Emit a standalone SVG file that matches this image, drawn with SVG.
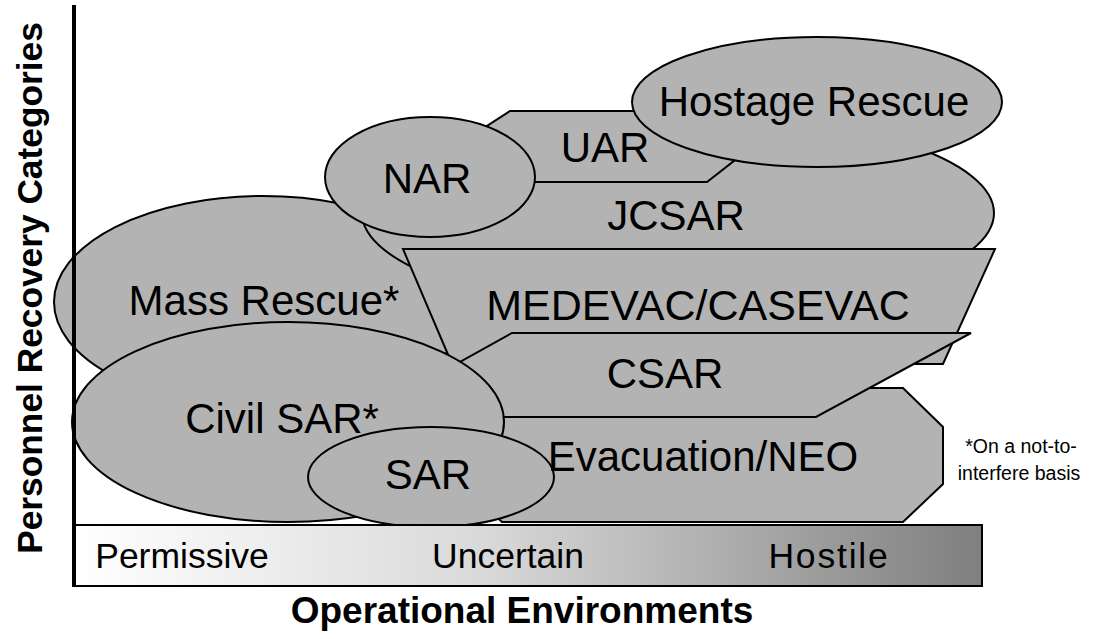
<svg xmlns="http://www.w3.org/2000/svg" width="1095" height="639" viewBox="0 0 1095 639">
<style>
.s{fill:#b3b3b3;stroke:#000;stroke-width:2}
.l{font-family:"Liberation Sans",Arial,sans-serif;font-size:42px;fill:#000;text-anchor:middle}
.b{font-family:"Liberation Sans",Arial,sans-serif;font-size:35.5px;fill:#000;text-anchor:middle}
.t{font-family:"Liberation Sans",Arial,sans-serif;font-weight:bold;fill:#000;text-anchor:middle}
.f{font-family:"Liberation Sans",Arial,sans-serif;font-size:19.5px;fill:#000;text-anchor:middle}
</style>
<defs>
<linearGradient id="env" x1="0" y1="0" x2="1" y2="0">
<stop offset="0" stop-color="#ffffff"/>
<stop offset="0.45" stop-color="#d9d9d9"/>
<stop offset="1" stop-color="#7f7f7f"/>
</linearGradient>
</defs>
<rect width="1095" height="639" fill="#fff"/>
<g id="mass"><ellipse class="s" cx="263" cy="302" rx="209" ry="106"/></g>
<g id="jcsar"><ellipse class="s" cx="678" cy="213" rx="316" ry="100"/></g>
<g id="uar"><polygon class="s" points="510,111 727,111 753,146 707,182 480,182 456,146"/></g>
<g id="hostage"><ellipse class="s" cx="817" cy="102" rx="185" ry="65"/></g>
<g id="nar"><ellipse class="s" cx="430" cy="177" rx="105" ry="60"/></g>
<g id="medevac"><polygon class="s" points="403,249 995,249 943,364 452,364"/></g>
<g id="evac"><polygon class="s" points="502,388 903,388 943,427 943,484 903,522 502,522 462,484 462,427"/></g>
<g id="csar"><polygon class="s" points="512,333 971,333 816,417 361,417"/></g>
<g id="civil"><ellipse class="s" cx="288" cy="422" rx="216" ry="100"/></g>
<g id="sar"><ellipse class="s" cx="431" cy="477" rx="123" ry="50"/></g>
<g id="labels">
<text class="l" x="264" y="315">Mass Rescue*</text>
<text class="l" x="676" y="230">JCSAR</text>
<text class="l" x="605" y="162">UAR</text>
<text class="l" x="814" y="116">Hostage Rescue</text>
<text class="l" x="427" y="193">NAR</text>
<text class="l" x="698" y="320" style="font-size:43px">MEDEVAC/CASEVAC</text>
<text class="l" x="703" y="471">Evacuation/NEO</text>
<text class="l" x="665" y="388">CSAR</text>
<text class="l" x="282" y="433">Civil SAR*</text>
<text class="l" x="428" y="489">SAR</text>
</g>
<g id="environments">
<rect x="75" y="525" width="907" height="61" fill="url(#env)" stroke="#000" stroke-width="2"/>
<text class="b" x="182" y="568">Permissive</text>
<text class="b" x="508" y="568">Uncertain</text>
<text class="b" x="829" y="568" style="letter-spacing:1.8px">Hostile</text>
</g>
<g id="axes">
<line x1="74" y1="5" x2="74" y2="587" stroke="#000" stroke-width="4"/>
<text class="t" x="522" y="623" style="font-size:37px">Operational Environments</text>
<text class="t" transform="translate(42,288) rotate(-90)" style="font-size:35.3px">Personnel Recovery Categories</text>
</g>
<g id="footnote">
<text class="f" x="1021" y="453">*On a not-to-</text>
<text class="f" x="1019" y="480">interfere basis</text>
</g>
</svg>
